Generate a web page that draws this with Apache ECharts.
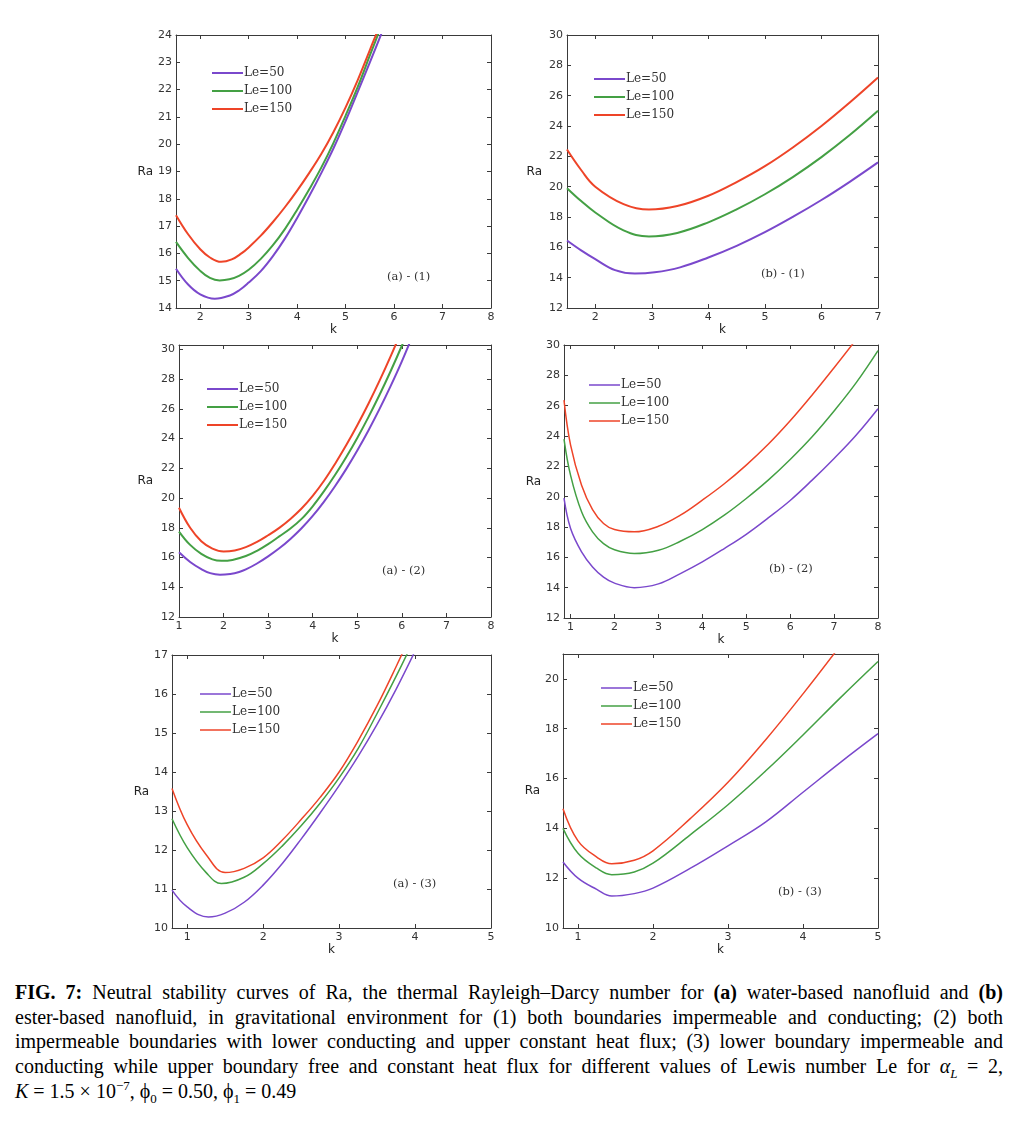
<!DOCTYPE html>
<html>
<head>
<meta charset="utf-8">
<script src="https://cdn.jsdelivr.net/npm/echarts@6/dist/echarts.min.js"></script>
<style>
  html, body { margin: 0; padding: 0; background: #fff; }
  #chart { position: absolute; left: 0; top: 0; width: 1023px; height: 965px; }
  #cap { position: absolute; left: 15px; top: 980px; width: 988px;
         font-family: "Liberation Serif", "DejaVu Serif", serif; font-size: 20px;
         line-height: 24.7px; color: #000; }
  #cap .ln { text-align: justify; text-align-last: justify; white-space: nowrap; }
  #cap .last { text-align: left; text-align-last: left; }
  #cap sub, #cap sup { font-size: 13px; line-height: 0; }
</style>
</head>
<body>
<div id="chart"></div>
<div id="cap">
  <div class="ln"><b>FIG. 7:</b> Neutral stability curves of Ra, the thermal Rayleigh–Darcy number for <b>(a)</b> water-based nanofluid and <b>(b)</b></div>
  <div class="ln">ester-based nanofluid, in gravitational environment for (1) both boundaries impermeable and conducting; (2) both</div>
  <div class="ln">impermeable boundaries with lower conducting and upper constant heat flux; (3) lower boundary impermeable and</div>
  <div class="ln">conducting while upper boundary free and constant heat flux for different values of Lewis number Le for <i>α</i><sub><i>L</i></sub> = 2,</div>
  <div class="ln last"><i>K</i> = 1.5 × 10<sup>−7</sup>, ϕ<sub>0</sub> = 0.50, ϕ<sub>1</sub> = 0.49</div>
</div>
<script>
// ---------- series names ----------
const seriesNames = ['Le=50', 'Le=100', 'Le=150'];

// ---------- (a)-(1) : [k, Ra] ----------
const a1_Le50  = [[1.5,15.44],[1.75,14.86],[2,14.5],[2.3,14.34],[2.6,14.45],[2.8,14.64],[3,14.93],[3.25,15.35],[3.5,15.9],[3.75,16.55],[4,17.3],[4.25,18.1],[4.5,18.95],[4.75,19.85],[5,20.85],[5.25,21.92],[5.5,23.0],[5.75,24.1],[6,25.2]];
const a1_Le100 = [[1.5,16.42],[1.75,15.83],[2,15.36],[2.2,15.1],[2.4,15.01],[2.6,15.05],[2.8,15.18],[3,15.4],[3.25,15.8],[3.5,16.3],[3.75,16.9],[4,17.6],[4.25,18.35],[4.5,19.15],[4.75,20.05],[5,21.05],[5.25,22.1],[5.5,23.25],[5.75,24.4],[6,25.6]];
const a1_Le150 = [[1.5,17.4],[1.75,16.7],[2,16.15],[2.2,15.85],[2.43,15.69],[2.65,15.78],[2.85,16.0],[3,16.22],[3.25,16.65],[3.5,17.15],[3.75,17.7],[4,18.3],[4.25,18.95],[4.5,19.65],[4.75,20.45],[5,21.35],[5.25,22.35],[5.5,23.45],[5.75,24.55],[6,25.7]];
// ---------- (b)-(1) ----------
const b1_Le50  = [[1.5,16.45],[1.75,15.8],[2,15.22],[2.35,14.5],[2.7,14.27],[3.05,14.35],[3.5,14.68],[4,15.33],[4.5,16.1],[5,17.0],[5.5,18.02],[6,19.12],[6.5,20.32],[7,21.6]];
const b1_Le100 = [[1.5,19.9],[1.75,19.05],[2,18.3],[2.5,17.12],[2.95,16.72],[3.45,16.95],[4,17.65],[4.5,18.5],[5,19.5],[5.5,20.65],[6,21.95],[6.5,23.4],[7,25.0]];
const b1_Le150 = [[1.5,22.45],[1.75,21.1],[2,20.0],[2.5,18.85],[2.95,18.49],[3.45,18.72],[4,19.4],[4.5,20.3],[5,21.35],[5.5,22.6],[6,24.0],[6.5,25.55],[7,27.2]];
// ---------- (a)-(2) ----------
const a2_Le50  = [[1,16.35],[1.25,15.7],[1.5,15.22],[1.7,14.95],[1.92,14.85],[2.15,14.9],[2.35,15.03],[2.5,15.2],[2.75,15.6],[3,16.08],[3.25,16.62],[3.5,17.25],[3.75,17.97],[4,18.8],[4.25,19.75],[4.5,20.8],[4.75,21.95],[5,23.2],[5.25,24.55],[5.5,26.0],[5.75,27.55],[6,29.2],[6.25,31.0]];
const a2_Le100 = [[1,17.75],[1.25,16.85],[1.5,16.25],[1.75,15.88],[1.95,15.78],[2.2,15.84],[2.5,16.1],[2.75,16.45],[3,16.9],[3.25,17.42],[3.5,17.95],[3.75,18.6],[4,19.45],[4.25,20.45],[4.5,21.55],[4.75,22.75],[5,24.05],[5.25,25.45],[5.5,26.95],[5.75,28.55],[6,30.25],[6.25,32.05]];
const a2_Le150 = [[1,19.35],[1.25,18.0],[1.5,17.1],[1.75,16.6],[2,16.4],[2.25,16.47],[2.5,16.7],[2.75,17.05],[3,17.5],[3.25,18.0],[3.5,18.6],[3.75,19.3],[4,20.15],[4.25,21.15],[4.5,22.3],[4.75,23.55],[5,24.9],[5.25,26.35],[5.5,27.9],[5.75,29.55],[6,31.3]];
// ---------- (b)-(2) ----------
const b2_Le50  = [[0.85,19.9],[1,17.9],[1.25,16.36],[1.5,15.37],[1.75,14.7],[2,14.3],[2.45,14.0],[3,14.25],[3.5,14.93],[4,15.7],[4.5,16.58],[5,17.52],[5.5,18.6],[6,19.75],[6.5,21.09],[7,22.52],[7.5,24.05],[8,25.8]];
const b2_Le100 = [[0.85,23.8],[1,21.4],[1.25,19.0],[1.5,17.68],[1.75,16.9],[2,16.5],[2.45,16.25],[3,16.47],[3.5,17.06],[4,17.83],[4.5,18.78],[5,19.88],[5.5,21.09],[6,22.45],[6.5,23.95],[7,25.65],[7.5,27.5],[8,29.63]];
const b2_Le150 = [[0.85,26.37],[1,23.4],[1.25,20.76],[1.5,19.15],[1.75,18.23],[2,17.83],[2.45,17.68],[3,18.05],[3.5,18.78],[4,19.77],[4.5,20.85],[5,22.08],[5.5,23.45],[6,25.0],[6.5,26.7],[7,28.5],[7.5,30.35]];
// ---------- (a)-(3) ----------
const a3_Le50  = [[0.8,10.97],[1,10.54],[1.28,10.28],[1.5,10.38],[1.75,10.66],[2,11.1],[2.25,11.65],[2.5,12.28],[2.75,12.95],[3,13.65],[3.25,14.4],[3.5,15.22],[3.75,16.12],[4,17.1]];
const a3_Le100 = [[0.8,12.8],[1,12.06],[1.25,11.42],[1.45,11.14],[1.75,11.3],[2,11.65],[2.25,12.1],[2.5,12.62],[2.75,13.2],[3,13.85],[3.25,14.6],[3.5,15.5],[3.75,16.45],[4,17.45]];
const a3_Le150 = [[0.8,13.58],[1,12.65],[1.25,11.88],[1.5,11.42],[1.75,11.53],[2,11.8],[2.25,12.25],[2.5,12.78],[2.75,13.35],[3,14.0],[3.25,14.8],[3.5,15.7],[3.75,16.7],[4,17.75]];
// ---------- (b)-(3) ----------
const b3_Le50  = [[0.8,12.65],[1,12.0],[1.25,11.55],[1.45,11.28],[1.75,11.38],[2,11.6],[2.5,12.4],[3,13.3],[3.5,14.25],[4,15.45],[4.5,16.65],[5,17.8]];
const b3_Le100 = [[0.8,14.0],[1,13.0],[1.25,12.4],[1.45,12.14],[1.75,12.25],[2,12.6],[2.5,13.75],[3,14.95],[3.5,16.3],[4,17.75],[4.5,19.25],[5,20.7]];
const b3_Le150 = [[0.8,14.79],[1,13.5],[1.25,12.85],[1.45,12.58],[1.75,12.72],[2,13.1],[2.5,14.4],[3,15.85],[3.5,17.55],[4,19.4],[4.5,21.35]];

// ---------- tick labels ----------
const a1_xTicks = [2,3,4,5,6,7,8];
const a1_yTicks = [14,15,16,17,18,19,20,21,22,23,24];
const b1_xTicks = [2,3,4,5,6,7];
const b1_yTicks = [12,14,16,18,20,22,24,26,28,30];
const a2_xTicks = [1,2,3,4,5,6,7,8];
const a2_yTicks = [12,14,16,18,20,22,24,26,28,30];
const b2_xTicks = [1,2,3,4,5,6,7,8];
const b2_yTicks = [12,14,16,18,20,22,24,26,28,30];
const a3_xTicks = [1,2,3,4,5];
const a3_yTicks = [10,11,12,13,14,15,16,17];
const b3_xTicks = [1,2,3,4,5];
const b3_yTicks = [10,12,14,16,18,20];

// ---------- panel titles ----------
const panelLabels = ['(a) - (1)', '(b) - (1)', '(a) - (2)', '(b) - (2)', '(a) - (3)', '(b) - (3)'];

const colors = ['#7a48cc', '#44a044', '#ee4428'];

const panels = [
  { data:[a1_Le50,a1_Le100,a1_Le150], grid:{left:176,top:35,width:315,height:273}, xr:[1.5,8], xt:a1_xTicks, yr:[14,24], yt:a1_yTicks, lw:2,   lg:{left:212,top:67}, note:{x:387,y:278}, raGap:23 },
  { data:[b1_Le50,b1_Le100,b1_Le150], grid:{left:567,top:35,width:311,height:273}, xr:[1.5,7], xt:b1_xTicks, yr:[12,30], yt:b1_yTicks, lw:2,   lg:{left:594,top:73}, note:{x:761,y:275}, raGap:25 },
  { data:[a2_Le50,a2_Le100,a2_Le150], grid:{left:179,top:345,width:312,height:272}, xr:[1,8], xt:a2_xTicks, yr:[12,30.3], yt:a2_yTicks, lw:2, lg:{left:207,top:383}, note:{x:382,y:572}, raGap:26 },
  { data:[b2_Le50,b2_Le100,b2_Le150], grid:{left:564,top:345,width:314,height:273}, xr:[0.85,8], xt:b2_xTicks, yr:[12,30], yt:b2_yTicks, lw:1.5, lg:{left:589,top:379}, note:{x:769,y:570}, raGap:22 },
  { data:[a3_Le50,a3_Le100,a3_Le150], grid:{left:172,top:655,width:319,height:273}, xr:[0.8,5], xt:a3_xTicks, yr:[10,17], yt:a3_yTicks, lw:1.5, lg:{left:200,top:688}, note:{x:393,y:885}, raGap:19 },
  { data:[b3_Le50,b3_Le100,b3_Le150], grid:{left:563,top:654,width:315,height:274}, xr:[0.8,5], xt:b3_xTicks, yr:[10,21], yt:b3_yTicks, lw:1.5, lg:{left:601,top:682}, note:{x:778,y:893}, raGap:21 }
];

const frameColor = '#3a3a3a';
const labelStyle = { fontSize: 11, color: '#333', fontFamily: 'DejaVu Sans' };

const option = {
  backgroundColor: '#fff',
  animation: false,
  grid: [], xAxis: [], yAxis: [], series: [], legend: [], graphic: []
};

panels.forEach((p, i) => {
  option.grid.push(Object.assign({ containLabel: false }, p.grid));
  option.xAxis.push({
    type: 'value', gridIndex: i, position: 'bottom', min: p.xr[0], max: p.xr[1],
    name: 'k', nameLocation: 'middle', nameGap: 13,
    nameTextStyle: { fontSize: 12, color: '#222', fontFamily: 'DejaVu Sans' },
    axisLine: { show: true, onZero: false, lineStyle: { color: frameColor, width: 1 } },
    axisTick: { show: true, inside: true, length: 4, customValues: p.xt, lineStyle: { color: frameColor } },
    axisLabel: Object.assign({ margin: 4, customValues: p.xt }, labelStyle),
    splitLine: { show: false }
  });
  option.xAxis.push({
    type: 'value', gridIndex: i, position: 'top', min: p.xr[0], max: p.xr[1],
    axisLine: { show: true, onZero: false, lineStyle: { color: frameColor, width: 1 } },
    axisTick: { show: true, inside: true, length: 4, customValues: p.xt, lineStyle: { color: frameColor } },
    axisLabel: { show: false }, splitLine: { show: false }
  });
  option.yAxis.push({
    type: 'value', gridIndex: i, position: 'left', min: p.yr[0], max: p.yr[1],
    name: 'Ra', nameLocation: 'middle', nameRotate: 0, nameGap: p.raGap,
    nameTextStyle: { fontSize: 12, color: '#222', fontFamily: 'DejaVu Sans', padding: [0, 0, 9, 0] },
    axisLine: { show: true, onZero: false, lineStyle: { color: frameColor, width: 1 } },
    axisTick: { show: true, inside: true, length: 4, customValues: p.yt, lineStyle: { color: frameColor } },
    axisLabel: Object.assign({ margin: 4, customValues: p.yt }, labelStyle),
    splitLine: { show: false }
  });
  option.yAxis.push({
    type: 'value', gridIndex: i, position: 'right', min: p.yr[0], max: p.yr[1],
    axisLine: { show: true, onZero: false, lineStyle: { color: frameColor, width: 1 } },
    axisTick: { show: true, inside: true, length: 4, customValues: p.yt, lineStyle: { color: frameColor } },
    axisLabel: { show: false }, splitLine: { show: false }
  });

  p.data.forEach((d, j) => {
    option.series.push({
      type: 'line', name: seriesNames[j], xAxisIndex: 2 * i, yAxisIndex: 2 * i,
      data: d, showSymbol: false, symbol: 'none', smooth: 0.4,
      clip: true,
      lineStyle: { color: colors[j], width: p.lw },
      itemStyle: { color: colors[j] },
      z: 3 + j
    });
  });

  option.legend.push({
    left: p.lg.left, top: p.lg.top, orient: 'vertical',
    data: seriesNames, icon: 'rect', itemWidth: 31, itemHeight: p.lw,
    itemGap: 6, padding: 0, selectedMode: false,
    textStyle: { fontSize: 12, color: '#333', fontFamily: 'DejaVu Serif', padding: [0, 0, 0, -4] }
  });

  option.graphic.push({
    type: 'text', left: p.note.x, top: p.note.y - 7,
    style: { text: panelLabels[i], fontSize: 11.5, fill: '#333', fontFamily: 'DejaVu Serif' }
  });
});

const chart = echarts.init(document.getElementById('chart'), null, { renderer: 'canvas' });
chart.setOption(option);
</script>
</body>
</html>
